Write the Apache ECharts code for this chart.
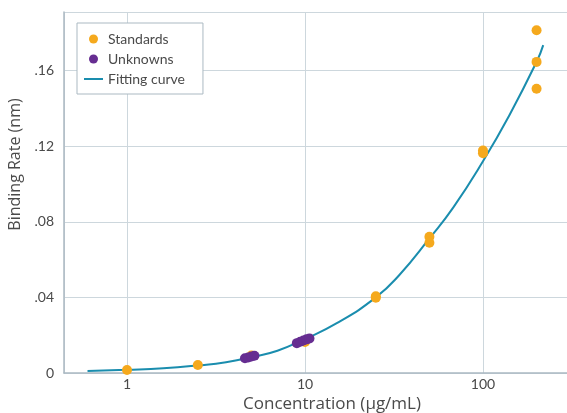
<!DOCTYPE html>
<html>
<head>
<meta charset="utf-8">
<script src="https://cdn.jsdelivr.net/npm/echarts@6/dist/echarts.min.js"></script>
<style>
  html, body { margin: 0; padding: 0; background: #fff; }
  #chart { width: 567px; height: 413px; }
</style>
</head>
<body>
<div id="chart"></div>
<script>
// standards: concentration (µg/mL) and binding rate (nm)
const standardsX = [1, 2.5, 5, 10, 25, 25, 50, 50, 100, 100, 200, 200, 200]
const standardsY = [0.0016, 0.0042, 0.0093, 0.0164, 0.0406, 0.0398, 0.0721, 0.0689, 0.1177, 0.1163, 0.1813, 0.1646, 0.1504]

// unknowns sit on the curve
const unknownsX = [4.6, 4.8, 5.0, 5.2, 9.0, 9.4, 9.8, 10.2, 10.6]
const unknownsY = [0.0078, 0.0082, 0.0087, 0.0091, 0.0158, 0.0165, 0.0172, 0.0178, 0.0183]

// fitting curve
const curveX = [0.6, 1, 1.6, 2.5, 3.6, 5, 7, 10, 15, 25, 34, 50, 68, 100, 140, 200, 218]
const curveY = [0.0011, 0.0017, 0.0025, 0.0040, 0.0057, 0.0084, 0.0118, 0.0180, 0.0262, 0.0400, 0.0520, 0.0712, 0.0875, 0.1120, 0.1360, 0.1646, 0.1735]

const yTicks = [0, 0.04, 0.08, 0.12, 0.16]

const colors = {
  standards: '#F5A91D',
  unknowns: '#662D91',
  curve: '#1A8DAE',
  grid: '#CDD7DD',
  axis: '#ABB9C2',
  text: '#4A4A4A',
}

const zip = (xs, ys) => xs.map((x, i) => [x, ys[i]])

const chart = echarts.init(document.getElementById('chart'), null, { renderer: 'canvas' })

chart.setOption({
  animation: false,
  backgroundColor: '#fff',
  textStyle: { fontFamily: 'Lato, sans-serif' },
  grid: { left: 64, right: 0, top: 12, bottom: 40, outerBoundsMode: 'none', containLabel: false },
  legend: {
    left: 77,
    top: 23,
    orient: 'vertical',
    data: [
      { name: 'Standards', icon: 'circle' },
      { name: 'Unknowns', icon: 'circle' },
      // thin line icon, the extra moves keep the box 19x9
      { name: 'Fitting curve', icon: 'path://M0,0M19,9M0,3.5L19,3.5L19,5.5L0,5.5Z' },
    ],
    itemWidth: 19,
    itemHeight: 9,
    itemGap: 6,
    padding: [9, 18, 8, 7],
    borderColor: colors.axis,
    borderWidth: 1,
    backgroundColor: '#fff',
    textStyle: { color: colors.text, fontSize: 14, fontFamily: 'Lato, sans-serif' },
  },
  xAxis: {
    type: 'log',
    logBase: 10,
    min: 0.4426,
    max: 296.5,
    name: 'Concentration (µg/mL)',
    nameLocation: 'middle',
    nameGap: 20,
    nameTextStyle: { color: colors.text, fontSize: 17, fontFamily: 'Open Sans, sans-serif', padding: [0, 0, 0, 33] },
    axisLine: { show: true, lineStyle: { color: colors.axis, width: 1.5 } },
    axisTick: { show: false },
    axisLabel: { color: colors.text, fontSize: 14, margin: 4, showMinLabel: false, showMaxLabel: false },
    splitLine: { show: true, lineStyle: { color: colors.grid, width: 1 } },
  },
  yAxis: {
    type: 'value',
    min: 0,
    max: 0.191,
    interval: 0.04,
    name: 'Binding Rate (nm)',
    nameLocation: 'middle',
    nameGap: 38,
    nameTextStyle: { color: colors.text, fontSize: 16, fontFamily: 'Open Sans, sans-serif', padding: [0, 0, 0, 56] },
    axisLine: { show: true, lineStyle: { color: colors.axis, width: 1.5 } },
    axisTick: { show: false },
    axisLabel: {
      color: colors.text,
      fontSize: 14,
      margin: 10,
      showMaxLabel: false,
      formatter: v => (yTicks.includes(+v.toFixed(2)) ? (v === 0 ? '0' : v.toFixed(2).replace(/^0/, '')) : ''),
    },
    splitLine: { show: true, lineStyle: { color: colors.grid, width: 1 } },
  },
  series: [
    {
      name: 'Fitting curve',
      type: 'line',
      data: zip(curveX, curveY),
      smooth: 0.5,
      symbol: 'none',
      lineStyle: { color: colors.curve, width: 2 },
      itemStyle: { color: colors.curve },
      z: 2,
    },
    {
      name: 'Standards',
      type: 'scatter',
      data: zip(standardsX, standardsY),
      symbolSize: 10,
      itemStyle: { color: colors.standards, opacity: 1 },
      z: 3,
    },
    {
      name: 'Unknowns',
      type: 'scatter',
      data: zip(unknownsX, unknownsY),
      symbolSize: 10,
      itemStyle: { color: colors.unknowns, opacity: 1 },
      z: 4,
    },
  ],
})
</script>
</body>
</html>
